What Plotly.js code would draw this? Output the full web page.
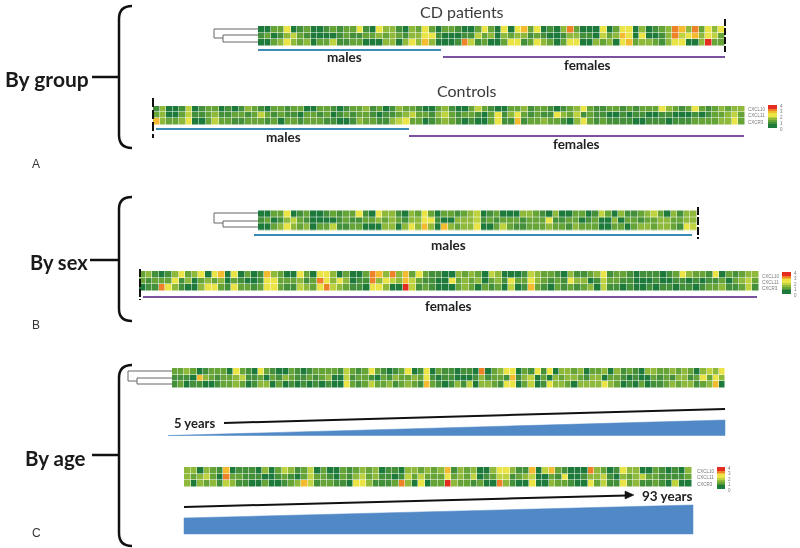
<!DOCTYPE html>
<html>
<head>
<meta charset="utf-8">
<script src="https://cdn.plot.ly/plotly-3.0.1.min.js"></script>
<style>html,body{margin:0;padding:0;background:#fff}#chart{width:800px;height:548px;filter:blur(0.3px)}.heatmaplayer{filter:blur(0.25px)}</style>
</head>
<body>
<div id="chart"></div>
<script>
var genes = ["CXCL10", "CXCL11", "CXCR3"];
var legendTicks = ["4", "3", "2", "1", "0"];
var legendLevels = [[8],[8],[7],[6],[5],[5],[4],[3],[2],[1],[0],[0]];

// expression levels, 0 = darkest green ... 8 = red
var cdTop = [0,0,2,2,5,0,1,2,0,0, 1,2,1,2,2,5,1,0,5,3, 3,1,0,3,2,5,2,0,2,2, 1,0,0,2,5,2,0,5,0,5, 6,2,5,0,1,0,3,7,2,0, 0,0,5,0,2,5,5,0,3,0, 1,2,3,7,6,3,7,2,5,3, 5];
var cdMid = [1,2,0,1,3,4,2,1,0,0, 0,0,1,2,1,1,2,2,3,2, 3,2,1,3,3,5,5,1,0,0, 0,1,1,4,2,3,0,3,2,3, 3,1,2,1,0,0,1,3,3,1, 1,0,4,2,3,6,5,0,5,0, 0,1,3,7,4,5,6,3,5,4, 2];
var cdBot = [0,0,2,3,5,3,2,3,0,2, 2,4,1,1,2,2,0,0,0,3, 3,0,3,5,3,6,3,0,0,0, 1,7,4,1,2,0,0,2,5,5, 1,2,5,3,2,0,2,5,5,0, 0,3,2,3,0,5,6,2,3,3, 2,1,3,5,5,0,0,3,8,2, 2];

var ctrlTop = [1,3,0,0,1,4,0,1,2,2, 0,1,0,1,3,2,1,0,2,2, 1,2,2,0,0,2,2,1,0,1, 2,2,3,1,2,0,1,3,2,2, 1,0,0,2,3,1,0,0,2,4, 2,1,0,0,2,2,3,1,2,2, 1,0,1,2,3,5,2,1,1,2, 2,1,2,1,2,2,2,5,3,2, 1,2,5,2,1,2,3,2,3,3];
var ctrlMid = [2,3,0,0,2,4,1,1,2,3, 1,1,2,2,1,2,4,2,1,2, 1,1,0,2,2,1,2,0,1,2, 1,2,2,1,0,1,1,2,3,4, 2,2,1,3,4,2,1,2,2,1, 0,2,5,1,3,5,2,1,2,1, 1,5,3,2,4,1,2,1,1,0, 0,1,0,1,1,0,0,1,1,0, 0,0,1,0,1,2,2,3,4,2];
var ctrlBot = [6,3,2,2,3,5,0,0,2,4, 2,2,1,1,2,2,2,1,2,0, 2,2,1,2,2,2,1,1,0,0, 1,3,2,2,1,1,3,4,5,2, 2,0,1,2,3,2,1,0,1,0, 0,2,5,1,1,6,1,2,2,3, 2,2,1,0,3,5,2,1,2,1, 1,1,1,0,0,1,1,1,0,1, 1,1,2,2,2,2,3,3,5,2];

var maleTop = [0,0,2,2,5,0,1,2,0,0, 1,2,1,2,2,5,1,0,5,3, 3,1,0,3,2,5,2,0,2,2, 1,2,3,4,0,1,2,0,0,0, 3,3,2,1,0,3,0,0,2,2, 0,1,4,2,0,3,1,1,2,3, 4,2,0,3,1,3,3];
var maleMid = [1,2,0,1,3,4,2,1,0,0, 0,0,1,2,1,1,2,2,3,2, 3,2,1,3,3,5,5,1,0,0, 3,3,3,4,1,2,1,2,2,2, 1,2,2,2,5,1,1,2,2,0, 1,2,0,0,3,0,2,2,1,2, 2,3,3,2,2,3,3];
var maleBot = [0,0,2,3,5,3,2,3,0,2, 2,4,1,1,2,2,0,0,0,3, 3,0,3,5,3,6,3,0,6,3, 2,3,3,5,0,0,2,4,2,1, 1,2,2,2,3,2,2,1,3,2, 2,2,0,0,2,2,0,2,3,3, 2,3,3,2,1,5,4];

var femaleTop = [2,3,1,0,1,3,5,2,3,5, 0,5,6,0,5,0,2,0,1,6, 3,2,0,0,5,2,0,5,5,3, 0,2,0,0,2,7,6,3,7,3, 6,2,5,2,1,1,0,0,3,2, 3,2,0,4,3,0,0,0,1,4, 3,2,2,1,0,3,1,1,2,3, 5,1,2,2,1,0,1,1,1,0, 1,2,5,3,2,2,1,5,0,2, 1,2,3,3];
var femaleMid = [2,1,2,2,2,5,1,3,0,2, 3,2,3,0,2,1,0,0,1,5, 5,2,2,2,3,1,2,7,5,3, 5,3,0,1,1,7,3,5,4,3, 6,4,2,1,1,0,0,5,2,3, 2,3,0,2,3,1,5,2,2,5, 3,2,1,2,1,5,3,3,0,1, 4,2,2,1,1,0,0,0,1,0, 0,1,1,0,1,0,1,1,2,0, 2,3,4,2];
var femaleBot = [0,1,1,7,5,3,1,0,0,3, 5,5,2,1,5,2,2,1,2,5, 5,2,1,1,4,3,2,5,7,4, 3,2,1,1,0,5,5,3,0,0, 8,4,1,2,1,0,0,0,2,3, 2,0,2,1,2,0,4,0,1,6, 2,1,0,2,1,2,1,2,3,0, 4,1,1,0,1,0,0,1,0,1, 1,0,1,1,0,1,2,2,3,1, 1,2,4,1];

var ageATop = [2,2,3,2,0,1,2,2,2,0, 5,2,1,0,5,2,1,0,0,2, 1,0,1,2,2,2,2,1,4,2, 1,2,5,2,1,0,1,2,5,0, 1,5,0,2,1,1,0,1,1,0, 7,0,2,3,5,5,0,2,1,5, 1,5,0,3,3,2,3,0,2,2, 3,0,3,1,2,1,0,3,3,2, 2,3,2,3,2,0,3,4,3,5];
var ageAMid = [1,1,1,0,6,3,2,1,2,2, 3,4,1,1,2,0,2,1,3,2, 1,1,2,1,2,3,0,0,4,1, 2,2,1,0,2,1,3,2,2,3, 2,5,1,0,1,1,0,0,0,1, 3,1,2,2,1,6,1,3,4,0, 2,0,3,2,3,3,2,1,3,3, 0,2,2,1,0,1,0,0,2,1, 2,1,3,3,1,2,5,2,5,3];
var ageABot = [1,2,0,1,1,0,0,1,2,2, 3,2,0,1,3,3,0,2,0,1, 0,1,0,1,0,1,0,0,5,2, 1,2,4,2,2,3,1,2,3,2, 1,6,2,1,0,1,3,1,4,0, 3,3,2,1,5,5,0,2,4,0, 1,5,3,3,2,0,3,3,3,3, 5,3,2,0,1,0,2,0,1,1, 2,3,2,3,3,1,2,3,6,0];

var ageBTop = [3,3,0,3,2,1,6,0,1,1, 1,0,3,0,2,4,3,1,2,4, 0,2,0,0,2,1,2,3,2,3, 0,1,1,0,3,3,2,3,2,3, 6,1,3,2,3,0,0,3,5,5, 3,1,1,6,0,4,6,2,1,0, 0,0,7,3,2,0,1,5,3,3, 0,0,2,1,0,1,0,3];
var ageBMid = [3,2,3,4,2,0,7,2,2,1, 1,1,0,0,1,2,1,0,2,4, 2,2,1,0,2,1,3,4,2,3, 1,1,0,1,4,2,4,2,2,2, 5,2,3,2,4,0,1,2,4,4, 1,2,3,4,0,0,2,1,5,0, 0,1,3,3,4,1,0,3,2,3, 4,2,2,1,1,1,1,2];
var ageBBot = [3,0,3,2,3,1,4,3,1,1, 0,0,2,0,0,1,2,3,6,4, 1,2,2,1,1,0,5,5,3,1, 1,1,2,7,3,0,5,0,2,2, 8,3,2,2,1,2,0,0,7,3, 1,0,0,5,0,0,3,2,2,1, 0,0,5,2,4,1,1,5,2,3, 1,1,2,1,0,4,0,0];

var scale = [[0,"#1d7a3a"],[0.125,"#448f39"],[0.25,"#66a438"],[0.375,"#8fb93b"],[0.5,"#bed33f"],[0.625,"#ebe447"],[0.75,"#f5bb30"],[0.875,"#ee8228"],[1,"#e42d20"]];

function strip(rows, left, right, top, bottom, gap) {
  var n = rows[0].length, dx = (right - left) / n, dy = (bottom - top) / rows.length;
  return {type:"heatmap", z:rows, x0:left + dx/2, dx:dx, y0:top + dy/2, dy:dy,
    zmin:0, zmax:8, colorscale:scale, showscale:false, hoverinfo:"skip", xgap:gap, ygap:gap};
}
var traces = [
  strip([cdTop,cdMid,cdBot], 258, 725, 26, 45.5, 0.5),
  strip([ctrlTop,ctrlMid,ctrlBot], 153, 745, 106, 124.5, 0.5),
  strip([maleTop,maleMid,maleBot], 258, 697, 210.5, 230, 0.5),
  strip([femaleTop,femaleMid,femaleBot], 139, 759, 271, 291, 0.5),
  strip([ageATop,ageAMid,ageABot], 172, 725, 368, 388, 0.5),
  strip([ageBTop,ageBMid,ageBBot], 184, 692, 467, 486.5, 0.5),
  strip(legendLevels, 768, 777, 105, 128, 0),
  strip(legendLevels, 782, 791, 272, 294, 0),
  strip(legendLevels, 717, 725, 467, 489, 0)
];

function ln(x0,y0,x1,y1,c,w,d){return {type:"line",xref:"x",yref:"y",x0:x0,y0:y0,x1:x1,y1:y1,line:{color:c,width:w,dash:d||"solid"}};}
function pth(p,c,w,f){return {type:"path",xref:"x",yref:"y",path:p,line:{color:c,width:w},fillcolor:f||"rgba(0,0,0,0)"};}
var blue="#3a8ab5", purple="#7b519f", k="#111", dg="#666", fillB="#5089c6";
var shapes = [
  // braces
  pth("M132,6 Q119,6 119,19 L119,135 Q119,148 132,148",k,2.5),
  ln(92,77,119,77,k,2.5),
  pth("M132,197 Q119,197 119,209 L119,309 Q119,321 132,321",k,2.5),
  ln(90,260,119,260,k,2.5),
  pth("M132,365 Q119,365 119,378 L119,533 Q119,546 132,546",k,2.5),
  ln(92,455,119,455,k,2.5),
  // dendrograms
  pth("M258,29 L214,29 L214,38 L223,38",dg,1), pth("M258,35 L223,35 L223,42 L258,42",dg,1),
  pth("M258,213 L214,213 L214,223 L223,223",dg,1), pth("M258,221 L223,221 L223,227 L258,227",dg,1),
  pth("M172,371 L128,371 L128,381 L137,381",dg,1), pth("M172,378 L137,378 L137,384 L172,384",dg,1),
  // group underlines
  ln(258,50,441,50,blue,2), ln(443,57,725,57,purple,2),
  ln(156,129,409,129,blue,2), ln(409,136,744,136,purple,2),
  ln(254,235,692,235,blue,2), ln(143,297,757,297,purple,2),
  // cut marks
  ln(725,19,725,52,k,2,"7px,2px"), ln(153,98,153,138,k,2,"9px,3px"),
  ln(698,207,698,239,k,2,"8px,2px"), ln(140,269,140,300,k,2,"8px,2px"),
  // age wedges and lines
  ln(224,423,725,409,k,2),
  pth("M168,435.5 L725,420 L725,435.5 Z",fillB,0.5,fillB),
  ln(184,507,627,495.5,k,2),
  pth("M625,491 L634,495 L625,499 Z",k,0.5,k),
  pth("M184,518 L693,505 L693,534 L184,534 Z",fillB,0.5,fillB)
];

function lab(x,y,t,size,bold,color,fam){
  return {xref:"x",yref:"y",x:x,y:y,text:bold?"<b>"+t+"</b>":t,showarrow:false,xanchor:"center",yanchor:"middle",
    font:{family:fam||"Lato, sans-serif",size:size,color:color||"#222"}};
}
var ann = [
  lab(47,78,"By group",21,true,"#1a1a1a"), lab(59,262,"By sex",20,true,"#1a1a1a"), lab(55,458,"By age",20.5,true,"#1a1a1a"),
  lab(462,11,"CD patients",16,false,"#3a3a3a"), lab(466,90,"Controls",16,false,"#3a3a3a"),
  lab(344,57,"males",13.5,true), lab(587,65,"females",13.5,true),
  lab(283,137,"males",13.5,true), lab(576,144,"females",13.5,true),
  lab(448,245,"males",13.5,true), lab(448,306,"females",13.5,true),
  lab(194,423,"5 years",13,true), lab(667,496,"93 years",13.5,true),
  lab(36,164,"A",12,false,"#333","Liberation Sans"), lab(36,325,"B",12,false,"#333","Liberation Sans"), lab(36,533,"C",12,false,"#333","Liberation Sans")
];
[[746,[109,115.5,122]],[760,[276,282,288]],[695,[471,477.5,484]]].forEach(function(g){
  genes.forEach(function(name,i){
    var a = lab(g[0],g[1][i],name,4.5,false,"#777","Liberation Sans");
    a.xanchor="left"; ann.push(a);
  });
});
[[781,105,128],[795,272,294],[729,467,489]].forEach(function(g){
  legendTicks.forEach(function(t,i){
    ann.push(lab(g[0],g[1]+1+i*(g[2]-g[1])/4,t,4.5,false,"#777","Liberation Sans"));
  });
});

var axis = {visible:false,fixedrange:true,showgrid:false,zeroline:false};
Plotly.newPlot("chart",traces,{
  width:800,height:548,margin:{l:0,r:0,t:0,b:0},
  paper_bgcolor:"#fff",plot_bgcolor:"#fff",showlegend:false,
  xaxis:Object.assign({range:[0,800]},axis),
  yaxis:Object.assign({range:[548,0]},axis),
  shapes:shapes,annotations:ann
},{displayModeBar:false,staticPlot:true});
</script>
</body>
</html>
